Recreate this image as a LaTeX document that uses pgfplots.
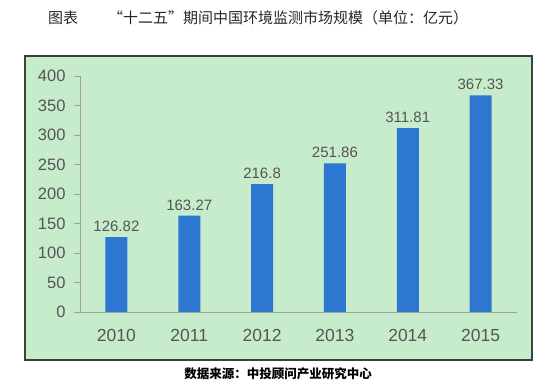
\documentclass[border=0pt]{standalone}
\usepackage{pgfplots}
\usepackage{pgfplotstable}
\pgfplotsset{compat=1.18}
\usepackage{fontspec}
\setmainfont{Liberation Sans}
\newfontfamily\cjk{Noto Sans CJK SC}
\definecolor{bgg}{HTML}{C7ECCC}
\definecolor{barb}{HTML}{2E77D0}
\definecolor{txt}{HTML}{555555}
\definecolor{axg}{HTML}{A0A0A0}
\pgfplotstableread{
x y lab
0 126.82 126.82
1 163.27 163.27
2 216.8 216.8
3 251.86 251.86
4 311.81 311.81
5 367.33 367.33
}\datatab
\begin{document}
\begin{tikzpicture}
\useasboundingbox (0,0) rectangle (560bp,388bp);
\filldraw[fill=bgg, draw=black!75, line width=1.2bp] (25bp,28bp) rectangle (532bp,332bp);
\node[font=\cjk\fontsize{15bp}{17bp}\selectfont, text=black!85] at (258bp,370bp) {图表\hspace{2em}“十二五”期间中国环境监测市场规模（单位：亿元）};
\node[font=\cjk\bfseries\fontsize{12.5bp}{14bp}\selectfont] at (278bp,14bp) {数据来源：中投顾问产业研究中心};
\begin{axis}[
  at={(80bp,76bp)}, anchor=south west,
  scale only axis, width=437bp, height=236bp,
  xmin=-0.5, xmax=5.5, ymin=0, ymax=400,
  axis x line*=bottom, axis y line*=left,
  axis line style={axg, line width=0.9bp},
  ytick={0,50,...,400},
  xtick={0,...,5},
  xticklabels={2010,2011,2012,2013,2014,2015},
  x tick style={draw=none},
  y tick style={axg, line width=0.9bp},
  tick align=outside,
  major tick length=6bp,
  /pgf/number format/assume math mode=true,
  yticklabel style={font=\fontsize{16.5bp}{18bp}\selectfont, text=txt, xshift=-5bp},
  xticklabel style={font=\fontsize{17.5bp}{19bp}\selectfont, text=txt, yshift=-8bp},
  axis background/.style={fill=none},
  clip=false,
]
\addplot[ybar, bar width=22bp, fill=barb, draw=none,
  nodes near coords, point meta=explicit symbolic,
  every node near coord/.append style={font=\fontsize{15bp}{17bp}\selectfont, text=txt, yshift=2bp}]
  table[x=x, y=y, meta=lab] {\datatab};
\end{axis}
\end{tikzpicture}
\end{document}
